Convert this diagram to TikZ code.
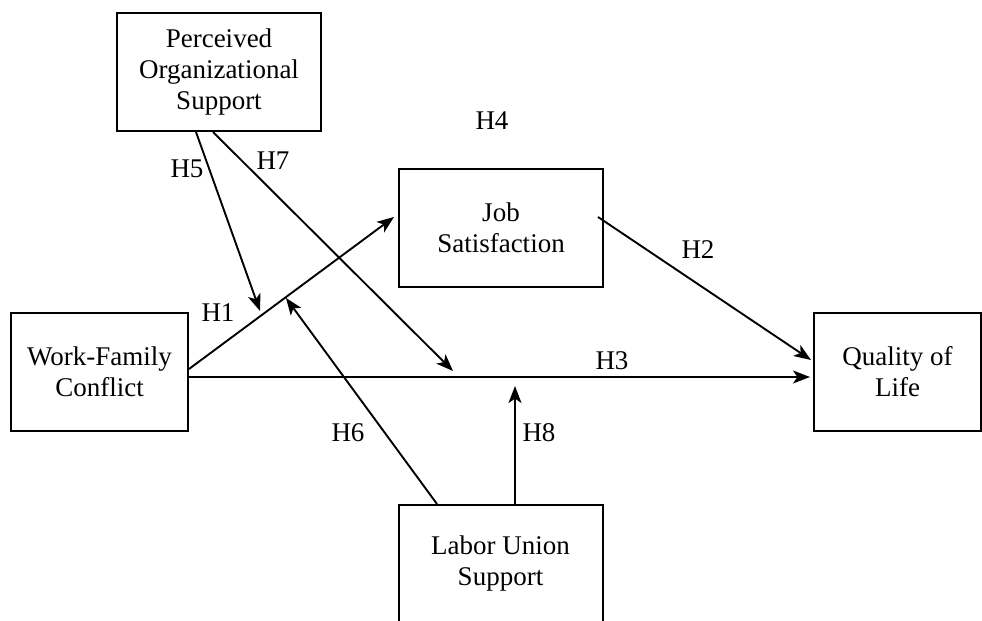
\documentclass[tikz,border=0pt]{standalone}
\usepackage{fontspec}
\setmainfont{Liberation Serif}
\usepackage{tikz}
\usetikzlibrary{calc}
\usetikzlibrary{arrows.meta}
\newcommand{\boxfont}{\fontsize{13.5}{15.5}\selectfont}
\newcommand{\widthwide}{102pt}
\newcommand{\widthnarrow}{88.5pt}
\newcommand{\heightbox}{59pt}
\tikzset{
    construct/.style={draw, rectangle, line width=1pt, align=center, font=\boxfont, minimum height=\heightbox, inner sep=0pt},
    wide/.style={construct, minimum width=\widthwide},
    narrow/.style={construct, minimum width=\widthnarrow},
    hyp/.style={font=\boxfont, inner sep=0pt},
    effect/.style={->, line width=0.95pt}
}

\begin{document}
\begin{tikzpicture}[x=0.5pt, y=-0.5pt, >={Stealth[length=8.5pt, width=6.5pt, inset=2.2pt]}]
        \path[use as bounding box, clip] (0,0) rectangle (982,621);

        \node[wide] (POS-box) at (219,72) {Perceived\\Organizational\\Support};
        \node[wide] (JS-box) at (501,228) {Job\\Satisfaction};
        \node[narrow] (WFC-box) at (99.5,371.5) {Work-Family\\Conflict};
        \node[construct, minimum width=83.5pt] (QOL-box) at (897.5,371.5) {Quality of\\Life};
        \node[wide] (LUS-box) at (500.5,564) {Labor Union\\Support};

        \node[hyp] (H1) at (218,313) {H1};
        \node[hyp] (H2) at (698,250) {H2};
        \node[hyp] (H3) at (612,361) {H3};
        \node[hyp] (H4) at (492,121) {H4};
        \node[hyp] (H5) at (187,169) {H5};
        \node[hyp] (H6) at (348,433) {H6};
        \node[hyp] (H7) at (273,161) {H7};
        \node[hyp] (H8) at (539,433) {H8};

        % moderating arrows end on the main paths
        \coordinate (H5-tip) at (260,311);
        \coordinate (H6-tip) at (286,298);
        \coordinate (H7-tip) at (453,371);
        \coordinate (H8-tip) at (515,386);

        \draw[effect] ($(WFC-box.east)+(0,-2.5)$) -- ($(JS-box.west)+(-4,-11)$);
        \draw[effect] ($(JS-box.east)+(-6,-11)$) -- ($(QOL-box.west)+(-2,-11.5)$);
        \draw[effect] ($(WFC-box.east)+(0,5.5)$) -- ($(QOL-box.west)+(-3,5.5)$);
        \draw[effect] ($(POS-box.south)+(-23,0)$) -- (H5-tip);
        \draw[effect] ($(POS-box.south)+(-6,0)$) -- (H7-tip);
        \draw[effect] ($(LUS-box.north)+(-63.5,0)$) -- (H6-tip);
        \draw[effect] ($(LUS-box.north)+(14.5,0)$) -- (H8-tip);
    \end{tikzpicture}
\end{document}
